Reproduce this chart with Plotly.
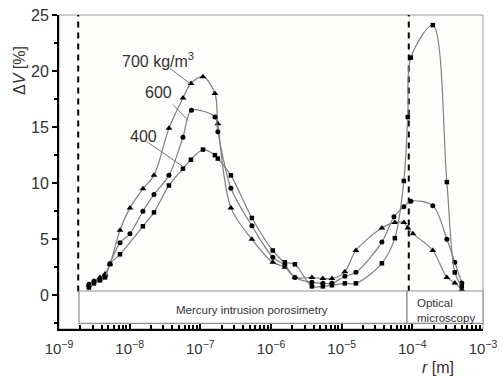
import plotly.graph_objects as go

# ---------------- data ----------------
r700 = [2.65e-9, 3.13e-9, 3.80e-9, 4.48e-9, 5.26e-9, 7.3e-9, 1.01e-8, 1.54e-8, 2.21e-8,
        3.6e-8, 5.68e-8, 7.36e-8, 1.09e-7, 1.61e-7, 1.77e-7, 2.71e-7, 5.37e-7, 1.06e-6,
        1.57e-6, 2.18e-6, 3.79e-6, 5.42e-6, 7.27e-6, 1.11e-5, 1.59e-5, 3.71e-5, 5.66e-5,
        7.58e-5, 8.63e-5, 1.02e-4, 1.95e-4, 3.08e-4, 3.99e-4, 5.01e-4]
v700 = [0.9, 1.25, 1.6, 1.9, 2.8, 5.8, 7.8, 9.5, 10.7,
        14.9, 17.6, 18.9, 19.5, 18.0, 15.3, 7.8, 5.0, 2.95,
        2.5, 1.6, 1.6, 1.5, 1.5, 2.1, 4.0, 6.0, 6.5,
        6.5, 6.0, 5.5, 4.0, 1.6, 1.1, 0.5]

r600 = [2.65e-9, 3.13e-9, 3.80e-9, 4.48e-9, 5.26e-9, 7.3e-9, 1.01e-8, 1.54e-8, 2.21e-8,
        3.6e-8, 5.68e-8, 7.5e-8, 1.61e-7, 1.77e-7, 2.71e-7, 5.37e-7, 1.06e-6,
        1.57e-6, 2.18e-6, 3.79e-6, 5.42e-6, 7.27e-6, 1.11e-5, 1.59e-5, 3.71e-5, 5.5e-5,
        7.58e-5, 9.52e-5, 1.95e-4, 3.08e-4, 3.99e-4, 5.01e-4]
v600 = [1.0, 1.25, 1.4, 1.7, 2.8, 4.7, 5.5, 7.5, 9.0,
        10.7, 14.1, 16.5, 15.9, 14.6, 9.55, 6.2, 3.4,
        2.7, 1.6, 1.16, 1.07, 1.07, 1.7, 2.05, 4.75, 7.0,
        7.9, 8.4, 8.0, 5.0, 2.95, 1.1]

r400 = [2.65e-9, 3.13e-9, 3.80e-9, 4.48e-9, 5.26e-9, 7.3e-9, 1.54e-8, 2.21e-8,
        3.6e-8, 5.68e-8, 7.36e-8, 1.09e-7, 1.61e-7, 1.77e-7, 2.71e-7, 5.37e-7, 1.06e-6,
        1.57e-6, 2.18e-6, 3.79e-6, 5.42e-6, 7.27e-6, 1.11e-5, 1.59e-5, 3.71e-5, 5.66e-5,
        7.58e-5, 8.63e-5, 9.52e-5, 1.95e-4, 3.08e-4, 3.99e-4, 5.01e-4]
v400 = [0.7, 1.07, 1.34, 1.6, 2.8, 3.66, 6.16, 7.4,
        9.8, 11.3, 12.1, 13.0, 12.5, 12.2, 10.7, 6.9, 4.0,
        2.95, 2.77, 0.8, 0.8, 0.9, 1.07, 1.07, 2.86, 5.1,
        10.2, 15.9, 21.2, 24.1, 10.1, 2.05, 0.8]

series_labels = ["700 kg/m<sup>3</sup>", "600", "400"]
method_limits = [1.87e-9, 8.9e-5]   # measurement range limits (dashed lines)
method_names = ["Mercury intrusion porosimetry", "Optical<br>microscopy"]
x_tick_vals = [1e-9, 1e-8, 1e-7, 1e-6, 1e-5, 1e-4, 1e-3]
x_tick_text = ["10<sup>−9</sup>", "10<sup>−8</sup>", "10<sup>−7</sup>", "10<sup>−6</sup>",
               "10<sup>−5</sup>", "10<sup>−4</sup>", "10<sup>−3</sup>"]
y_tick_vals = [0, 5, 10, 15, 20, 25]

# ---------------- layout constants ----------------
W, H = 503, 376
L, R, T, B = 59, 20, 15, 47
PW, PH = W - L - R, H - T - B


def px(x):
    return (x - L) / PW


def py(y):
    return (H - B - y) / PH


FONT = "Liberation Sans, Arial, sans-serif"
TXT = "#333333"
LINE = "#808080"

fig = go.Figure()

# dashed method-limit lines
for lim in method_limits:
    fig.add_trace(go.Scatter(x=[lim, lim], y=[0.35, 25], mode="lines",
                             line=dict(color="black", width=2, dash="6px,5px"),
                             hoverinfo="skip", showlegend=False))

markers = [("triangle-up", 6), ("circle", 5), ("square", 4.5)]
for (rr, vv), (sym, sz) in zip([(r700, v700), (r600, v600), (r400, v400)], markers):
    fig.add_trace(go.Scatter(
        x=rr, y=vv, mode="lines+markers",
        line=dict(color=LINE, width=1.2, shape="spline", smoothing=0.9),
        marker=dict(symbol=sym, size=sz, color="black"),
        showlegend=False))

shapes = []
# grey frame (top / right)
shapes.append(dict(type="rect", xref="paper", yref="paper", x0=0, x1=1, y0=0, y1=1,
                   line=dict(color="#9a9a9a", width=1), layer="below"))
# method boxes
box_l, box_m, box_b, box_t = px(79), px(407), py(323.3), py(291)
shapes.append(dict(type="rect", xref="paper", yref="paper", x0=box_l, x1=box_m,
                   y0=box_b, y1=box_t, line=dict(color="#8f8f8f", width=1.2),
                   fillcolor="white"))
shapes.append(dict(type="rect", xref="paper", yref="paper", x0=box_m, x1=1,
                   y0=box_b, y1=box_t, line=dict(color="#8f8f8f", width=1.2),
                   fillcolor="white"))
# leader lines
for (x0, y0, x1, y1) in [(170, 68.5, 190, 83.5), (173, 104.5, 188, 120.5), (146.5, 141.5, 183, 166.5)]:
    shapes.append(dict(type="line", xref="paper", yref="paper",
                       x0=px(x0), y0=py(y0), x1=px(x1), y1=py(y1),
                       line=dict(color="#7a7a7a", width=1)))


def label(text, x, y, size, xanchor="center", **kw):
    return dict(text=text, x=px(x), y=py(y), xref="paper", yref="paper",
                xanchor=xanchor, yanchor="middle", showarrow=False,
                font=dict(size=size, color=TXT, family=FONT), **kw)


ann = []
for text, (x, y) in zip(series_labels, [(158, 60), (158, 93), (143, 136)]):
    ann.append(label(text, x, y, 16))
ann.append(label(method_names[0], 252, 310, 11.5))
ann.append(label(method_names[1], 415, 310.5, 11.5, xanchor="left", align="left"))
ann.append(label("Δ<i>V</i> [%]", 20, 71, 16, textangle=-90))
ann.append(label("<i>r</i> [m]", 438, 367, 16))

fig.update_layout(
    width=W, height=H,
    margin=dict(l=L, r=R, t=T, b=B, pad=0),
    paper_bgcolor="white", plot_bgcolor="#fdfdfb",
    shapes=shapes, annotations=ann, showlegend=False,
    font=dict(family=FONT, color=TXT),
)
fig.update_xaxes(type="log", range=[-9, -3], tickvals=x_tick_vals, ticktext=x_tick_text,
                 automargin=False, showgrid=False, zeroline=False,
                 showline=True, linecolor="black", linewidth=2,
                 ticks="inside", ticklen=6, tickwidth=1.5, tickcolor="black",
                 ticklabelstandoff=5,
                 minor=dict(ticks="inside", ticklen=4, tickcolor="black", dtick="D1", showgrid=False),
                 tickfont=dict(size=15, color=TXT, family=FONT))
fig.update_yaxes(range=[-3, 25], tickvals=y_tick_vals, automargin=False,
                 showgrid=False, zeroline=False,
                 showline=True, linecolor="black", linewidth=2,
                 ticks="outside", ticklen=5, tickwidth=1.5, tickcolor="black",
                 minor=dict(ticks="outside", ticklen=3, tickcolor="black", dtick=2.5, tick0=0, showgrid=False),
                 tickfont=dict(size=16, color=TXT, family=FONT))

fig.write_html("out.html")
